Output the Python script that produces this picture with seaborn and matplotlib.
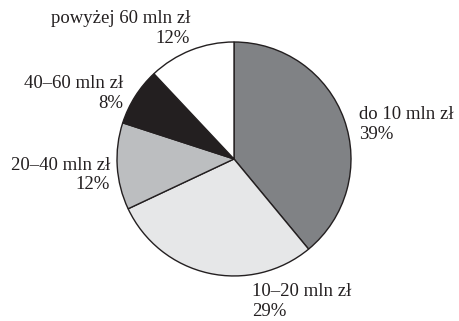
import matplotlib
matplotlib.use("Agg")
import matplotlib.pyplot as plt
import seaborn as sns

# data
categories = ["do 10 mln zł", "10–20 mln zł", "20–40 mln zł", "40–60 mln zł", "powyżej 60 mln zł"]
shares = [39, 29, 12, 8, 12]
colors = ["#808285", "#e6e7e8", "#bcbec0", "#231f20", "#ffffff"]

sns.set_theme(style="white")
plt.rcParams["font.family"] = ["Liberation Serif", "DejaVu Serif"]

fig = plt.figure(figsize=(4.59, 3.21), dpi=100)
ax = fig.add_axes([0, 0, 1, 1])

ax.pie(
    shares,
    colors=colors,
    startangle=90,
    counterclock=False,
    radius=1.0,
    wedgeprops=dict(edgecolor="#231f20", linewidth=1.0),
)

ax.set_xlim(-2.0, 1.923)
ax.set_ylim(-1.385, 1.359)
ax.set_aspect("auto")
ax.axis("off")

# label anchors (data units, radius = 1)
label_pos = [
    (1.068, 0.45, "left"),
    (0.154, -1.06, "left"),
    (-1.06, 0.02, "right"),
    (-0.95, 0.72, "right"),
    (-0.376, 1.27, "right"),
]

for name, val, (x, y, ha) in zip(categories, shares, label_pos):
    ax.text(x, y, f"{name}\n{val}%", ha=ha, va="top", fontsize=13.5,
            color="#231f20", linespacing=1.22)

fig.savefig("out.png", dpi=100)
